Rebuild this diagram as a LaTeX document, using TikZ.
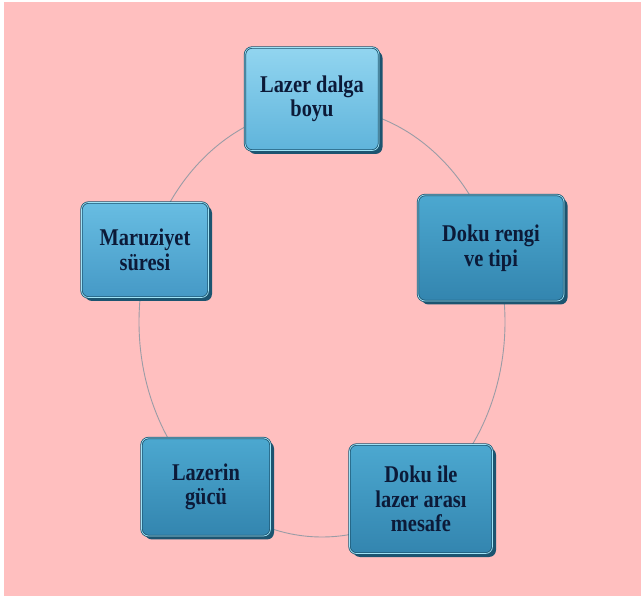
\documentclass[tikz,border=0pt]{standalone}
\usepackage{fontspec}
\setmainfont{Liberation Serif}
\newfontfamily\boxfont[FakeStretch=0.85]{Liberation Serif}
\usetikzlibrary{shadows}
\definecolor{bgpink}{HTML}{FFBFBF}
\definecolor{ringgray}{HTML}{9A9CA6}
\definecolor{edgedark}{HTML}{1C5470}
\definecolor{rimlight}{HTML}{9FE3F6}
\definecolor{inktext}{HTML}{0C1A38}
\definecolor{paletop}{HTML}{92D5F0}
\definecolor{palebot}{HTML}{5FB4DB}
\definecolor{softtop}{HTML}{68BDE2}
\definecolor{softbot}{HTML}{4599C6}
\definecolor{deeptop}{HTML}{4CA8D0}
\definecolor{deepbot}{HTML}{3385AF}
\tikzset{
  stagebox/.style 2 args={rectangle,rounded corners=7pt,align=center,
    font=\boxfont\fontsize{24}{24.5}\selectfont\bfseries,text=inktext,
    draw=edgedark,double=rimlight,double distance=0.7pt,line width=0.8pt,
    top color=#1,bottom color=#2,
    drop shadow={shadow xshift=3.5pt,shadow yshift=-3.5pt,fill=edgedark,opacity=1}}
}
\begin{document}
\begin{tikzpicture}
  [x=1pt,y=-1pt]
  \fill[white] (0,0) rectangle (641,596);
  \fill[bgpink] (4,2) rectangle (641,596);
  % ring behind the boxes
  \coordinate (c) at (322,322);
  \draw[ringgray,line width=0.9pt] (c) ellipse [x radius=183,y radius=215];
  \node[stagebox={paletop}{palebot},minimum width=134pt,minimum height=103pt] (n1) at (312,99) {Lazer dalga\\boyu};
  \node[stagebox={deeptop}{deepbot},minimum width=146pt,minimum height=106pt] (n2) at (491,248) {Doku rengi\\ve tipi};
  \node[stagebox={deeptop}{deepbot},minimum width=143pt,minimum height=109pt] (n3) at (421,499) {Doku ile\\lazer aras\i\\mesafe};
  \node[stagebox={deeptop}{deepbot},minimum width=129pt,minimum height=98pt] (n4) at (206,487) {Lazerin\\gücü};
  \node[stagebox={softtop}{softbot},minimum width=127pt,minimum height=95pt] (n5) at (145,250) {Maruziyet\\süresi};
\end{tikzpicture}
\end{document}
